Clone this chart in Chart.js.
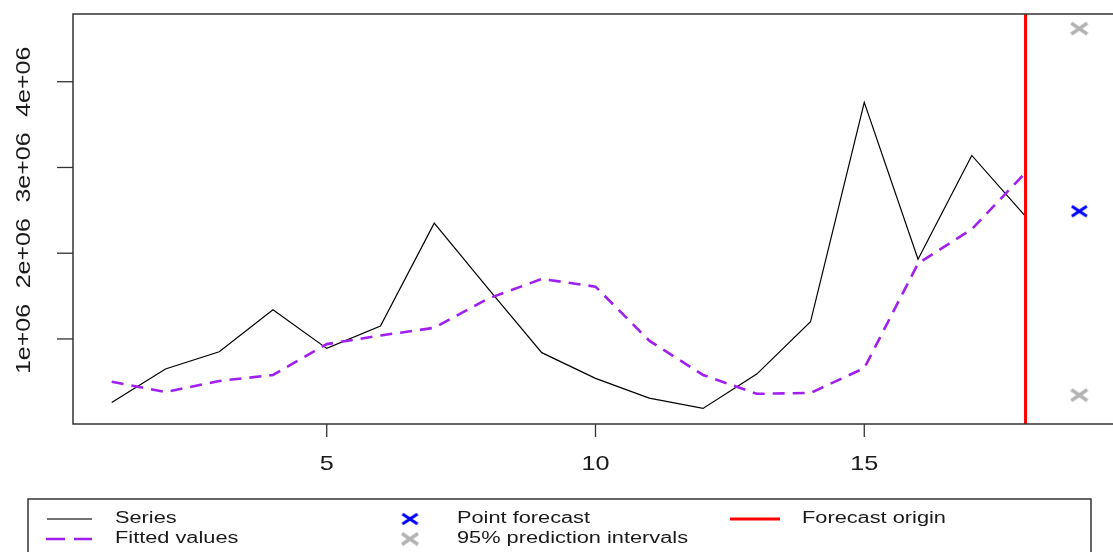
<!DOCTYPE html>
<html>
<head>
<meta charset="utf-8">
<script src="https://cdn.jsdelivr.net/npm/chart.js@4"></script>
<style>
    html, body { margin: 0; padding: 0; background: #fff; overflow: hidden; }
    #contenedor { position: relative; width: 1113px; height: 552px; }
</style>
</head>
<body>
<div id="contenedor"><canvas id="grafico"></canvas></div>
<script>
// Datos
const periodos = [1, 2, 3, 4, 5, 6, 7, 8, 9, 10, 11, 12, 13, 14, 15, 16, 17, 18];
const serie = [0.26, 0.65, 0.85, 1.34, 0.89, 1.15, 2.35, 1.59, 0.84, 0.54, 0.31, 0.19, 0.59, 1.20, 3.76, 1.93, 3.14, 2.43].map(v => v * 1e6);
const ajustados = [0.50, 0.38, 0.51, 0.58, 0.94, 1.04, 1.13, 1.47, 1.70, 1.61, 0.98, 0.58, 0.36, 0.37, 0.66, 1.88, 2.28, 2.94].map(v => v * 1e6);
const periodoPronostico = 19;
const pronostico = 2.49e6;
const intervalos = [4.62e6, 0.345e6];
const origen = 18;
const xTicks = [5, 10, 15];
const yTicks = [1e6, 2e6, 3e6, 4e6];
const yTickLabels = ['1e+06', '2e+06', '3e+06', '4e+06'];

// El borde derecho del grafico de R queda fuera de la imagen
const X_MIN = 0.28, X_MAX = 19.627;
const Y_MIN = 0.008e6, Y_MAX = 4.79e6;

const COLORES = {
    serie: '#000000',
    ajustado: '#a020f0',
    pronostico: '#0000ff',
    intervalo: '#b3b3b3',
    origen: '#ff0000',
    eje: '#333333',
    texto: '#1a1a1a'
};

// Marca "x" (pch = 4), algo mas ancha que alta como en la imagen
function crearCruz(color, ancho, alto, grosor) {
    const c = document.createElement('canvas');
    c.width = ancho + 4;
    c.height = alto + 4;
    const g = c.getContext('2d');
    g.strokeStyle = color;
    g.lineWidth = grosor;
    g.beginPath();
    g.moveTo(2, 2); g.lineTo(ancho + 2, alto + 2);
    g.moveTo(ancho + 2, 2); g.lineTo(2, alto + 2);
    g.stroke();
    return c;
}
const cruzAzul = crearCruz(COLORES.pronostico, 15, 10, 3);
const cruzGris = crearCruz(COLORES.intervalo, 16, 11, 3.5);

function textoEscalado(ctx, txt, x, y, sx, rot) {
    ctx.save();
    ctx.translate(x, y);
    if (rot) ctx.rotate(rot);
    ctx.scale(sx, 1);
    ctx.fillText(txt, 0, 0);
    ctx.restore();
}

// Ejes, marco y leyenda al estilo de R
const ejesR = {
    id: 'ejesR',
    afterDraw(chart) {
        const ctx = chart.ctx;
        const a = chart.chartArea;
        const xs = chart.scales.x, ys = chart.scales.y;
        ctx.save();
        ctx.strokeStyle = COLORES.eje;
        ctx.lineWidth = 1.5;
        ctx.beginPath();
        ctx.moveTo(chart.width, a.top);
        ctx.lineTo(a.left, a.top);
        ctx.lineTo(a.left, a.bottom);
        ctx.lineTo(chart.width, a.bottom);
        ctx.stroke();

        ctx.fillStyle = COLORES.texto;
        ctx.textAlign = 'center';
        ctx.textBaseline = 'middle';
        ctx.lineWidth = 1.3;
        ctx.font = '21px "Liberation Sans", Arial, sans-serif';
        xTicks.forEach(t => {
            const px = xs.getPixelForValue(t);
            ctx.beginPath();
            ctx.moveTo(px, a.bottom);
            ctx.lineTo(px, a.bottom + 13);
            ctx.stroke();
            textoEscalado(ctx, String(t), px, 464, 1.2, 0);
        });
        ctx.font = '20px "Liberation Sans", Arial, sans-serif';
        yTicks.forEach((t, i) => {
            const py = ys.getPixelForValue(t);
            ctx.beginPath();
            ctx.moveTo(a.left, py);
            ctx.lineTo(a.left - 16, py);
            ctx.stroke();
            textoEscalado(ctx, yTickLabels[i], 24, py, 1.25, -Math.PI / 2);
        });

        // Leyenda
        ctx.lineWidth = 1.5;
        ctx.strokeRect(28, 499, 1063, 70);
        ctx.font = '16px "Liberation Sans", Arial, sans-serif';
        ctx.textAlign = 'left';
        const f1 = 519, f2 = 539;
        const items = [
            ['Series', 115, f1], ['Fitted values', 115, f2],
            ['Point forecast', 457, f1], ['95% prediction intervals', 457, f2],
            ['Forecast origin', 802, f1]
        ];
        items.forEach(it => textoEscalado(ctx, it[0], it[1], it[2], 1.36, 0));

        ctx.strokeStyle = '#444444';
        ctx.lineWidth = 1.5;
        ctx.beginPath(); ctx.moveTo(47, f1); ctx.lineTo(92, f1); ctx.stroke();
        ctx.strokeStyle = COLORES.ajustado;
        ctx.lineWidth = 2.5;
        ctx.beginPath();
        ctx.moveTo(46, f2); ctx.lineTo(65, f2);
        ctx.moveTo(74, f2); ctx.lineTo(92, f2);
        ctx.stroke();
        ctx.strokeStyle = COLORES.origen;
        ctx.lineWidth = 3;
        ctx.beginPath(); ctx.moveTo(730, f1); ctx.lineTo(780, f1); ctx.stroke();
        ctx.drawImage(cruzAzul, 410 - cruzAzul.width / 2, f1 - cruzAzul.height / 2);
        ctx.drawImage(cruzGris, 410 - cruzGris.width / 2, f2 - cruzGris.height / 2);
        ctx.restore();
    }
};

const puntos = (xs, ys) => xs.map((x, i) => ({ x: x, y: ys[i] }));

new Chart(document.getElementById('grafico'), {
    type: 'line',
    data: {
        datasets: [
            {
                label: 'Series',
                data: puntos(periodos, serie),
                borderColor: COLORES.serie,
                borderWidth: 1.2,
                pointRadius: 0,
                tension: 0,
                order: 4
            },
            {
                label: 'Fitted values',
                data: puntos(periodos, ajustados),
                borderColor: COLORES.ajustado,
                borderWidth: 2.6,
                borderDash: [12, 8],
                pointRadius: 0,
                tension: 0,
                order: 3
            },
            {
                label: 'Forecast origin',
                data: [{ x: origen, y: Y_MIN }, { x: origen, y: Y_MAX }],
                borderColor: COLORES.origen,
                borderWidth: 3,
                pointRadius: 0,
                order: 2
            },
            {
                label: 'Point forecast',
                data: [{ x: periodoPronostico, y: pronostico }],
                showLine: false,
                pointStyle: cruzAzul,
                pointRadius: 8,
                order: 1
            },
            {
                label: '95% prediction intervals',
                data: intervalos.map(v => ({ x: periodoPronostico, y: v })),
                showLine: false,
                pointStyle: cruzGris,
                pointRadius: 8,
                order: 0
            }
        ]
    },
    options: {
        responsive: true,
        maintainAspectRatio: false,
        animation: false,
        devicePixelRatio: 1,
        events: [],
        layout: { autoPadding: false, padding: { left: 73, top: 14, right: 0, bottom: 128 } },
        plugins: { legend: { display: false }, tooltip: { enabled: false } },
        scales: {
            x: { type: 'linear', min: X_MIN, max: X_MAX, display: false },
            y: { type: 'linear', min: Y_MIN, max: Y_MAX, display: false }
        }
    },
    plugins: [ejesR]
});
</script>
</body>
</html>
